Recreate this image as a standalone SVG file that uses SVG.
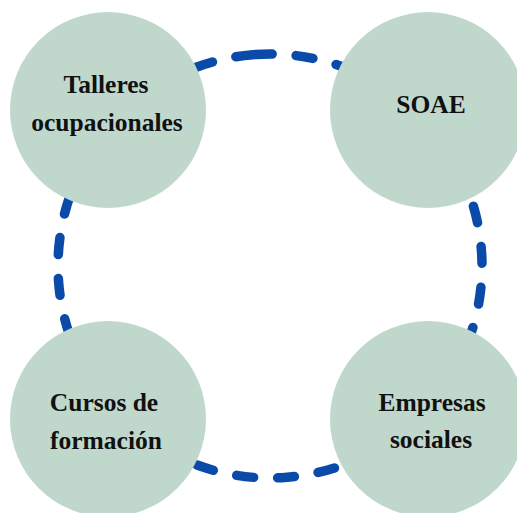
<svg xmlns="http://www.w3.org/2000/svg" width="517" height="513" viewBox="0 0 517 513">
<style>
.ring{fill:none;stroke:#0a4aa8;stroke-width:9.5;stroke-linecap:round;stroke-dasharray:17 24}
.node{fill:#c0d8cc}
.lbl{font-family:"Liberation Serif","Times New Roman",serif;font-weight:bold;font-size:25.5px;fill:#111;text-anchor:middle}
</style>
<rect width="517" height="513" fill="#fff"/>
<g id="connectors">
<circle class="ring" cx="270" cy="266" r="212" transform="rotate(-94 270 266)"/>
</g>
<g id="talleres">
<circle class="node" cx="108" cy="110" r="98"/>
<text class="lbl" x="106" y="93">Talleres</text>
<text class="lbl" x="107" y="131">ocupacionales</text>
</g>
<g id="soae">
<circle class="node" cx="428" cy="110" r="98"/>
<text class="lbl" x="431" y="113">SOAE</text>
</g>
<g id="cursos">
<circle class="node" cx="108" cy="419" r="98"/>
<text class="lbl" x="104" y="411">Cursos de</text>
<text class="lbl" x="106" y="449">formación</text>
</g>
<g id="empresas">
<circle class="node" cx="428" cy="419" r="98"/>
<text class="lbl" x="432" y="411">Empresas</text>
<text class="lbl" x="431" y="448">sociales</text>
</g>
</svg>
